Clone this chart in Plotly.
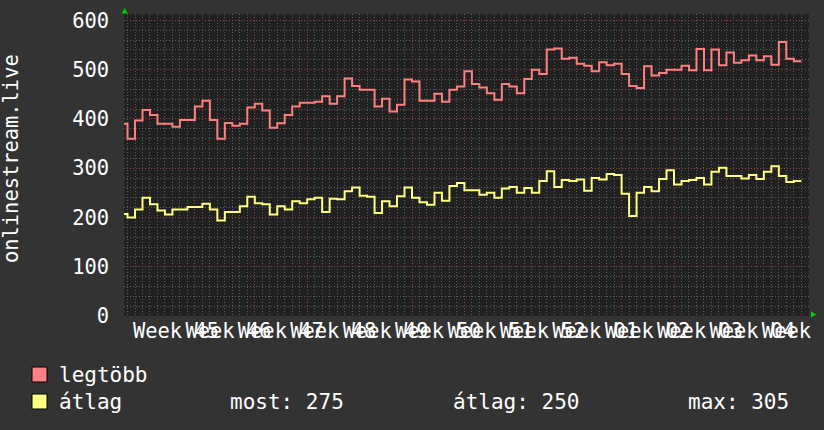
import plotly.graph_objects as go

# napi adatok, a nap sorszáma a W45 hét hétfőjétől számolva
days = list(range(-4, 87))

legtobb = [390, 360, 397, 418, 408, 390, 390, 384, 398, 398, 425, 437, 398, 360, 392,
           386, 390, 423, 431, 417, 382, 391, 408, 425, 433, 433, 435, 446, 431, 446,
           482, 467, 459, 459, 425, 441, 415, 429, 480, 476, 437, 437, 451, 435, 459,
           466, 497, 471, 464, 452, 439, 471, 466, 452, 481, 500, 491, 541, 543, 522,
           524, 512, 508, 497, 515, 509, 512, 491, 467, 463, 507, 488, 493, 500, 500,
           508, 499, 542, 499, 541, 509, 535, 514, 519, 529, 519, 527, 510, 556, 522,
           517]

atlag = [207, 200, 216, 240, 227, 214, 206, 216, 216, 221, 221, 228, 216, 194, 211,
         211, 223, 242, 229, 227, 206, 223, 216, 233, 229, 237, 240, 211, 238, 237,
         253, 261, 244, 242, 209, 233, 223, 243, 261, 240, 231, 226, 250, 234, 264,
         270, 255, 255, 246, 250, 240, 259, 262, 250, 260, 250, 274, 294, 262, 276,
         274, 277, 254, 280, 277, 288, 286, 248, 203, 250, 262, 253, 278, 296, 267,
         274, 276, 280, 267, 293, 301, 284, 284, 279, 286, 278, 293, 304, 284, 272,
         274]

week_starts = [0, 7, 14, 21, 28, 35, 42, 49, 56, 63, 70, 77, 84]
week_labels = ["Week 45", "Week 46", "Week 47", "Week 48", "Week 49", "Week 50",
               "Week 51", "Week 52", "Week 01", "Week 02", "Week 03", "Week 04",
               "Week 05"]

stats = [("most", "275"), ("átlag", "250"), ("max", "305")]

RED = "#ff8080"
YELLOW = "#ffff80"
MONO = "DejaVu Sans Mono"

# a rajzterület pixelben
L, R, T, B = 124, 809, 14, 316


def px(x):
    return (x - L) / (R - L)


def py(y):
    return (B - y) / (B - T)


# lépcsős vonal: a nap végéig tart az érték
xs = days + [days[-1] + 1]

fig = go.Figure()
fig.add_trace(go.Scatter(x=xs, y=legtobb + [legtobb[-1]], mode="lines",
                         line=dict(color=RED, width=2, shape="hv"), name="legtöbb"))
fig.add_trace(go.Scatter(x=xs, y=atlag + [atlag[-1]], mode="lines",
                         line=dict(color=YELLOW, width=2, shape="hv"), name="átlag"))

fig.update_layout(
    width=824, height=430,
    margin=dict(l=L, r=824 - R, t=T, b=430 - B),
    paper_bgcolor="#333333", plot_bgcolor="#212121",
    showlegend=False,
    font=dict(family=MONO, color="#ffffff", size=20),
)

fig.update_xaxes(
    range=[-3.47, 88.03], tickmode="array", tickvals=week_starts, ticktext=week_labels,
    tickangle=0, ticklabelshift=26, ticklabeloverflow="allow", ticklabelstandoff=1,
    tickfont=dict(family=MONO, size=20.4, color="#ffffff"), automargin=False,
    showgrid=True, gridcolor="rgba(170,60,60,0.75)", griddash="1px,2px", gridwidth=1,
    minor=dict(dtick=1, tick0=0, showgrid=True, gridcolor="rgba(120,120,120,0.7)",
               griddash="1px,2px", gridwidth=1),
    zeroline=False, showline=False, ticks="",
)
fig.update_yaxes(
    range=[0, 613], tickmode="array", tickvals=[0, 100, 200, 300, 400, 500, 600],
    tickfont=dict(family=MONO, size=20.4, color="#ffffff"), ticklabelstandoff=14,
    automargin=False,
    showgrid=True, gridcolor="rgba(170,60,60,0.75)", griddash="1px,2px", gridwidth=1,
    minor=dict(dtick=20, tick0=0, showgrid=True, gridcolor="rgba(120,120,120,0.7)",
               griddash="1px,2px", gridwidth=1),
    zeroline=False, showline=False, ticks="",
)

# y tengely felirata
fig.add_annotation(text="onlinestream.live", xref="paper", yref="paper",
                   x=px(11.5), y=py(158.5), textangle=-90, showarrow=False,
                   font=dict(family=MONO, size=20.4, color="#ffffff"),
                   xanchor="center", yanchor="middle")

# zöld nyilak a tengelyek végén
fig.add_shape(type="path", xref="paper", yref="paper", line=dict(width=0),
              fillcolor="#00cc00",
              path=f"M {px(121.7)} {py(13.5)} L {px(124.7)} {py(8)} L {px(127.7)} {py(13.5)} Z")
fig.add_shape(type="path", xref="paper", yref="paper", line=dict(width=0),
              fillcolor="#00cc00",
              path=f"M {px(811)} {py(311.5)} L {px(816.5)} {py(314.5)} L {px(811)} {py(317.5)} Z")

# jelmagyarázat
legend_rows = [("legtöbb", RED, 374.5), ("átlag", YELLOW, 401.5)]
for label, color, yc in legend_rows:
    fig.add_shape(type="rect", xref="paper", yref="paper",
                  x0=px(32), x1=px(47), y0=py(yc - 7.5), y1=py(yc + 7.5),
                  fillcolor=color, line=dict(color="#000000", width=1))
    fig.add_annotation(text=label, xref="paper", yref="paper", x=px(57), y=py(yc),
                       showarrow=False, xanchor="left", yanchor="middle",
                       font=dict(family=MONO, size=21, color="#ffffff"))

for (name, value), xl in zip(stats, [228, 451, 686]):
    fig.add_annotation(text=f"{name}: {value}", xref="paper", yref="paper",
                       x=px(xl), y=py(401.5), showarrow=False,
                       xanchor="left", yanchor="middle",
                       font=dict(family=MONO, size=21, color="#ffffff"))

# az oldal alapértelmezett margója nélkül
fig.write_html("out.html", config={"displayModeBar": False},
               post_script="document.body.style.margin='0';"
                           "document.body.style.overflow='hidden';"
                           "document.body.style.background='#333333';")
